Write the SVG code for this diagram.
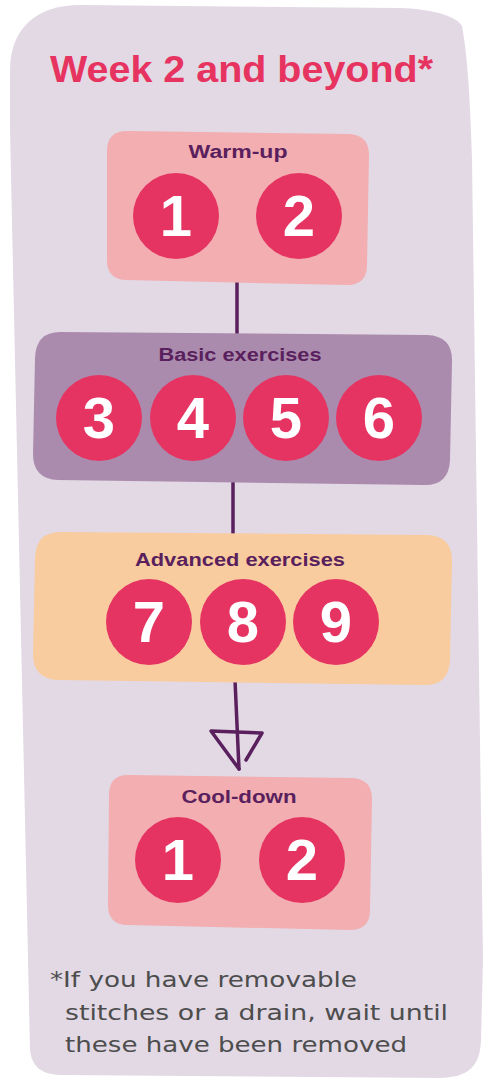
<svg xmlns="http://www.w3.org/2000/svg" width="485" height="1081" viewBox="0 0 485 1081">
<style>
.lbl{font-family:"Liberation Sans",Arial,sans-serif;font-weight:bold;font-size:18px;fill:#5a1f5d;text-anchor:middle}
.num{font-family:"Liberation Sans",Arial,sans-serif;font-weight:bold;font-size:58px;fill:#ffffff;text-anchor:middle}
.dot{fill:#e53462}
.conn{fill:none;stroke:#5a1f5d;stroke-width:3.5;stroke-linecap:round;stroke-linejoin:round}
.note{font-family:"DejaVu Sans","Liberation Sans",sans-serif;font-size:21px;fill:#4d4d4d}
</style>
<rect width="485" height="1081" fill="#ffffff"/>
<path id="panel" d="M10,70 C10,30 35,5 80,5 L400,8 C430,9 455,15 462,26 C468,60 470,100 472,160 L483,960 L481,1040 C480,1065 470,1077 440,1078 L60,1075 C40,1074 32,1066 30,1050 L10,130 Z" fill="#e2d9e5"/>
<text x="50" y="82" textLength="383" lengthAdjust="spacingAndGlyphs" font-family="'Liberation Sans',Arial,sans-serif" font-weight="bold" font-size="37" fill="#e6335f">Week 2 and beyond*</text>
<g id="connectors">
<path class="conn" d="M237,280 L237,338"/>
<path class="conn" d="M233,480 L233,535"/>
<path class="conn" d="M235,680 L239,769"/>
<path class="conn" d="M246,760 L262,733 L211,731 L239,769"/>
</g>
<g id="warmup">
<path d="M127,131 L349,134 Q369,135 369,155 L367,265 Q367,285 347,285 L127,280 Q107,280 107,260 L107,151 Q107,131 127,131 Z" fill="#f2aeb0"/>
<text class="lbl" x="238" y="158" textLength="99" lengthAdjust="spacingAndGlyphs">Warm-up</text>
<circle class="dot" cx="176" cy="216" r="43"/>
<circle class="dot" cx="299" cy="216" r="43"/>
<text class="num" x="176" y="236">1</text>
<text class="num" x="299" y="236">2</text>
</g>
<g id="basic">
<path d="M60,332 L427,335 Q453,336 452,362 L450,460 Q449,486 423,485 L58,480 Q33,479 33,454 L35,358 Q36,332 60,332 Z" fill="#ab8bad"/>
<text class="lbl" x="240" y="361" textLength="163" lengthAdjust="spacingAndGlyphs">Basic exercises</text>
<circle class="dot" cx="99" cy="418" r="43"/>
<circle class="dot" cx="193" cy="418" r="43"/>
<circle class="dot" cx="286" cy="418" r="43"/>
<circle class="dot" cx="379" cy="418" r="43"/>
<text class="num" x="99" y="438">3</text>
<text class="num" x="193" y="438">4</text>
<text class="num" x="286" y="438">5</text>
<text class="num" x="379" y="438">6</text>
</g>
<g id="advanced">
<path d="M60,532 L427,535 Q453,536 452,562 L450,660 Q449,686 423,685 L58,680 Q33,679 33,654 L35,558 Q36,532 60,532 Z" fill="#f9cc9f"/>
<text class="lbl" x="240" y="566" textLength="210" lengthAdjust="spacingAndGlyphs">Advanced exercises</text>
<circle class="dot" cx="149" cy="622" r="43"/>
<circle class="dot" cx="243" cy="622" r="43"/>
<circle class="dot" cx="336" cy="622" r="43"/>
<text class="num" x="149" y="642">7</text>
<text class="num" x="243" y="642">8</text>
<text class="num" x="336" y="642">9</text>
</g>
<g id="cooldown">
<path d="M128,775 L352,778 Q372,779 372,799 L370,910 Q370,930 350,930 L128,925 Q108,925 108,905 L109,795 Q109,775 128,775 Z" fill="#f2aeb0"/>
<text class="lbl" x="239" y="803" textLength="115" lengthAdjust="spacingAndGlyphs">Cool-down</text>
<circle class="dot" cx="178" cy="860" r="43"/>
<circle class="dot" cx="302" cy="860" r="43"/>
<text class="num" x="178" y="880">1</text>
<text class="num" x="302" y="880">2</text>
</g>
<g id="footnote">
<text class="note" x="50" y="987" textLength="307" lengthAdjust="spacingAndGlyphs">*If you have removable</text>
<text class="note" x="65" y="1020" textLength="383" lengthAdjust="spacingAndGlyphs">stitches or a drain, wait until</text>
<text class="note" x="65" y="1052" textLength="342" lengthAdjust="spacingAndGlyphs">these have been removed</text>
</g>
</svg>
